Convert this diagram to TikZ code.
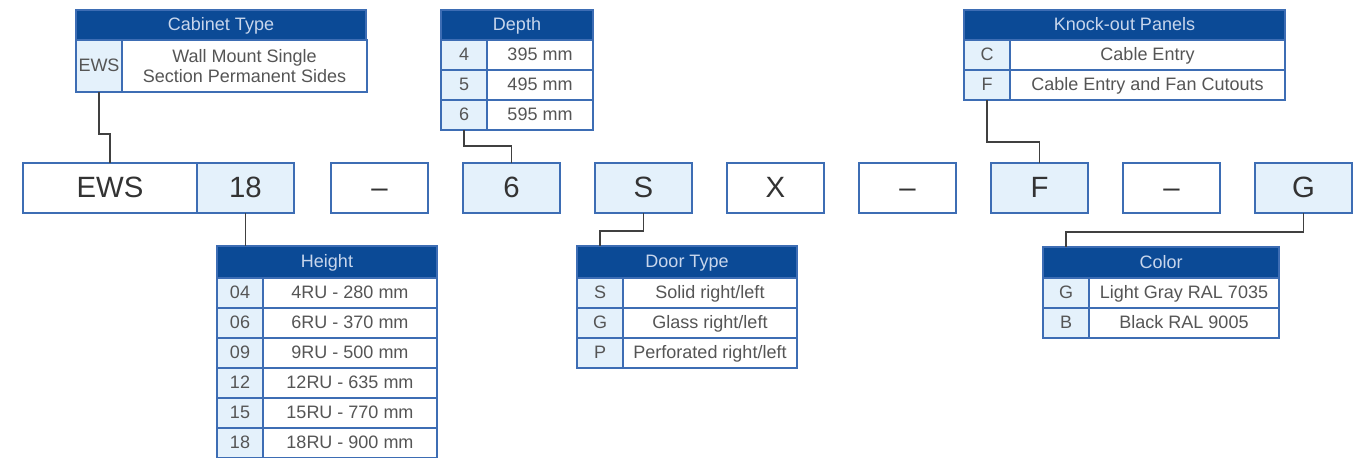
\documentclass[tikz,border=0pt]{standalone}
\usepackage{fontspec}
\setmainfont{Liberation Sans}
\usetikzlibrary{positioning}

\definecolor{navy}{HTML}{0B4A96}
\definecolor{pale}{HTML}{E4F1FB}
\definecolor{edge}{HTML}{3D6DB4}
\definecolor{headtext}{HTML}{C8D6EC}
\definecolor{ink}{HTML}{333333}
\definecolor{soft}{HTML}{555555}
\definecolor{wirecol}{HTML}{404040}
\newdimen\pxu \pxu=0.75pt

\begin{document}
\begin{tikzpicture}[x=0.75pt,y=-0.75pt,node distance=0pt,font=\fontsize{13.5}{15}\selectfont]

\tikzstyle{cell}=[draw=edge,line width=0.9pt,inner sep=0pt,outer sep=0pt,text=soft,minimum height=30\pxu,text height=9.7pt,text depth=1.2pt]
\tikzstyle{keycell}=[cell,fill=pale,minimum width=46\pxu]
\tikzstyle{valcell}=[cell,fill=white]
\tikzstyle{headcell}=[cell,fill=navy,text=headtext]
\tikzstyle{slot}=[cell,fill=pale,text=ink,minimum width=97\pxu,minimum height=50\pxu,font=\fontsize{22}{22}\selectfont,text height=15.8pt,text depth=1.5pt]
\tikzstyle{slotblank}=[slot,fill=white]
\tikzstyle{wire}=[draw=wirecol,line width=0.8pt]

\useasboundingbox (0,0) rectangle (1363,457);

% part number row
\node[slotblank,anchor=north west,minimum width=174\pxu] (ews) at (23,163) {EWS};
\node[slot,right=of ews]              (n18)   {18};
\node[slotblank,right=37\pxu of n18]  (dash1) {–};
\node[slot,right=35\pxu of dash1]     (n6)    {6};
\node[slot,right=35\pxu of n6]        (nS)    {S};
\node[slotblank,right=35\pxu of nS]   (nX)    {X};
\node[slotblank,right=35\pxu of nX]   (dash2) {–};
\node[slot,right=35\pxu of dash2]     (nF)    {F};
\node[slotblank,right=35\pxu of nF]   (dash3) {–};
\node[slot,right=35\pxu of dash3]     (nG)    {G};

% cabinet type
\node[headcell,anchor=north west,minimum width=290\pxu] (cabh) at (76,10) {Cabinet Type};
\node[keycell,minimum height=52\pxu,below right=of cabh.south west] (cabk) {EWS};
\node[valcell,minimum height=52\pxu,minimum width=245\pxu,right=of cabk,align=center,text height=,text depth=] (cabv) {Wall Mount Single\\Section Permanent Sides};

% depth
\tikzstyle{depv}=[valcell,minimum width=106\pxu]
\node[headcell,anchor=north west,minimum width=152\pxu] (deph) at (441,10) {Depth};
\node[keycell,below right=of deph.south west] (depk1) {4};
\node[depv,right=of depk1] (depv1) {395 mm};
\node[keycell,below=of depk1] (depk2) {5};
\node[depv,right=of depk2] (depv2) {495 mm};
\node[keycell,below=of depk2] (depk3) {6};
\node[depv,right=of depk3] (depv3) {595 mm};

% knock-out panels
\tikzstyle{kov}=[valcell,minimum width=275\pxu]
\node[headcell,anchor=north west,minimum width=321\pxu] (koh) at (964,10) {Knock-out Panels};
\node[keycell,below right=of koh.south west] (kok1) {C};
\node[kov,right=of kok1] (kov1) {Cable Entry};
\node[keycell,below=of kok1] (kok2) {F};
\node[kov,right=of kok2] (kov2) {Cable Entry and Fan Cutouts};

% height
\tikzstyle{htv}=[valcell,minimum width=174\pxu]
\node[headcell,anchor=north west,minimum width=220\pxu,minimum height=32\pxu] (hth) at (217,246) {Height};
\node[keycell,below right=of hth.south west] (htk1) {04};
\node[htv,right=of htk1] (htv1) {4RU - 280 mm};
\node[keycell,below=of htk1] (htk2) {06};
\node[htv,right=of htk2] (htv2) {6RU - 370 mm};
\node[keycell,below=of htk2] (htk3) {09};
\node[htv,right=of htk3] (htv3) {9RU - 500 mm};
\node[keycell,below=of htk3] (htk4) {12};
\node[htv,right=of htk4] (htv4) {12RU - 635 mm};
\node[keycell,below=of htk4] (htk5) {15};
\node[htv,right=of htk5] (htv5) {15RU - 770 mm};
\node[keycell,below=of htk5] (htk6) {18};
\node[htv,right=of htk6] (htv6) {18RU - 900 mm};

% door type
\tikzstyle{drv}=[valcell,minimum width=174\pxu]
\node[headcell,anchor=north west,minimum width=220\pxu,minimum height=32\pxu] (drh) at (577,246) {Door Type};
\node[keycell,below right=of drh.south west] (drk1) {S};
\node[drv,right=of drk1] (drv1) {Solid right/left};
\node[keycell,below=of drk1] (drk2) {G};
\node[drv,right=of drk2] (drv2) {Glass right/left};
\node[keycell,below=of drk2] (drk3) {P};
\node[drv,right=of drk3] (drv3) {Perforated right/left};

% color
\tikzstyle{colv}=[valcell,minimum width=190\pxu]
\node[headcell,anchor=north west,minimum width=236\pxu,minimum height=31\pxu] (colh) at (1043,247) {Color};
\node[keycell,below right=of colh.south west] (colk1) {G};
\node[colv,right=of colk1] (colv1) {Light Gray RAL 7035};
\node[keycell,below=of colk1] (colk2) {B};
\node[colv,right=of colk2] (colv2) {Black RAL 9005};

% connectors
\draw[wire] (cabk.south) -- ++(0,42) -| (ews.north);
\draw[wire] (depk3.south) -- ++(0,16) -| (n6.north);
\draw[wire] (kok2.south) -- ++(0,42) -| (nF.north);
\draw[wire] (n18.south) -- (n18.south |- hth.north);
\draw[wire] (nS.south) -- ++(0,18) -| (drk1 |- drh.north);
\draw[wire] (nG.south) -- ++(0,19) -| (colk1 |- colh.north);

\end{tikzpicture}
\end{document}
